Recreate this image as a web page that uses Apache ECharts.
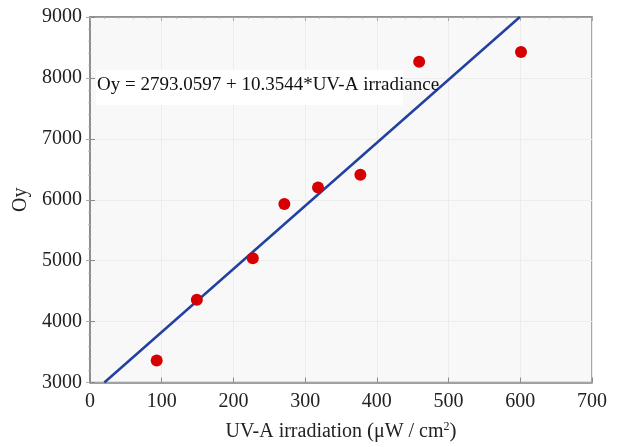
<!DOCTYPE html>
<html>
<head>
<meta charset="utf-8">
<script src="https://cdn.jsdelivr.net/npm/echarts@6/dist/echarts.min.js"></script>
<style>
  html, body { margin: 0; padding: 0; background: #ffffff; overflow: hidden; }
  #chart { width: 100vw; height: 100vh; }
</style>
</head>
<body>
<div id="chart"></div>
<script>
// Measured UV-A irradiation (µW/cm²) and Oy values
const irradiation = [93, 149, 227, 271, 318, 377, 459, 601];
const oyValues = [3360, 4360, 5040, 5930, 6200, 6410, 8265, 8425];

// Linear regression: Oy = intercept + slope * irradiance
const intercept = 2793.0597;
const slope = 10.3544;
const fitX = [20, 599.4];

const xTicks = { min: 0, max: 700, step: 100 };
const yTicks = { min: 3000, max: 9000, step: 1000 };

const serif = '"Liberation Serif", "DejaVu Serif", serif';
const fitData = fitX.map(x => [x, intercept + slope * x]);
const points = irradiation.map((x, i) => [x, oyValues[i]]);

const chart = echarts.init(document.getElementById('chart'), null, { renderer: 'canvas' });

const frameLine = { lineStyle: { color: '#8a8a8a', width: 1.5 } };
const plain = v => String(v);

chart.setOption({
  backgroundColor: '#ffffff',
  animation: false,
  grid: {
    left: 90, top: 17, right: 26, height: 371,
    show: true, backgroundColor: '#f8f8f8', borderColor: '#8a8a8a', borderWidth: 1.5
  },
  xAxis: [{
    type: 'value', min: xTicks.min, max: xTicks.max, interval: xTicks.step,
    position: 'bottom',
    name: 'UV-A irradiation {p|(}μW / cm{sup|2}{p|)}',
    nameLocation: 'middle', nameGap: 38,
    nameTextStyle: {
      fontFamily: serif, fontSize: 20, color: '#222',
      rich: {
        sup: { fontFamily: serif, fontSize: 12, verticalAlign: 'top', padding: [0, 0, 10, 0], color: '#222' },
        p: { fontFamily: serif, fontSize: 21, color: '#222' }
      }
    },
    axisLine: { show: true, ...frameLine },
    axisTick: { show: true, inside: true, length: 5, lineStyle: { color: '#8a8a8a' } },
    axisLabel: { fontFamily: serif, fontSize: 20, color: '#222', margin: 9, formatter: plain },
    splitLine: { show: true, lineStyle: { color: '#ececec', width: 1 } }
  }, {
    type: 'value', min: xTicks.min, max: xTicks.max, interval: xTicks.step,
    position: 'top',
    axisLine: { show: true, ...frameLine },
    axisTick: { show: true, inside: true, length: 4, lineStyle: { color: '#aaa' } },
    minorTick: { show: true, splitNumber: 5, length: 2, lineStyle: { color: '#bbb' } },
    axisLabel: { show: false },
    splitLine: { show: false }
  }],
  yAxis: [{
    type: 'value', min: yTicks.min, max: yTicks.max, interval: yTicks.step,
    position: 'left',
    name: 'Oy', nameLocation: 'middle', nameGap: 58, nameRotate: 90,
    nameTextStyle: { fontFamily: serif, fontSize: 20, color: '#222' },
    axisLine: { show: true, ...frameLine },
    axisTick: { show: true, inside: true, length: 5, lineStyle: { color: '#8a8a8a' } },
    axisLabel: { fontFamily: serif, fontSize: 20, color: '#222', margin: 8, formatter: plain },
    splitLine: { show: true, lineStyle: { color: '#ececec', width: 1 } }
  }, {
    type: 'value', min: yTicks.min, max: yTicks.max, interval: yTicks.step,
    position: 'right',
    axisLine: { show: true, ...frameLine },
    axisTick: { show: true, inside: true, length: 4, lineStyle: { color: '#aaa' } },
    minorTick: { show: true, splitNumber: 5, length: 2, lineStyle: { color: '#bbb' } },
    axisLabel: { show: false },
    splitLine: { show: false }
  }],
  series: [{
    type: 'line',
    data: fitData,
    showSymbol: false,
    lineStyle: { color: '#2140a0', width: 2.5 },
    z: 2
  }, {
    type: 'scatter',
    data: points,
    symbol: 'circle',
    symbolSize: 12,
    itemStyle: { color: '#d60000', opacity: 1 },
    z: 3
  }],
  graphic: [{
    type: 'rect',
    left: 96, top: 70,
    shape: { width: 307, height: 35 },
    style: { fill: '#ffffff' },
    z: 1
  }, {
    type: 'text',
    left: 97, top: 76,
    style: {
      text: 'Oy = 2793.0597 + 10.3544*UV-A irradiance',
      fontFamily: serif, fontSize: 19, fill: '#111'
    },
    z: 10
  }]
});
</script>
</body>
</html>
